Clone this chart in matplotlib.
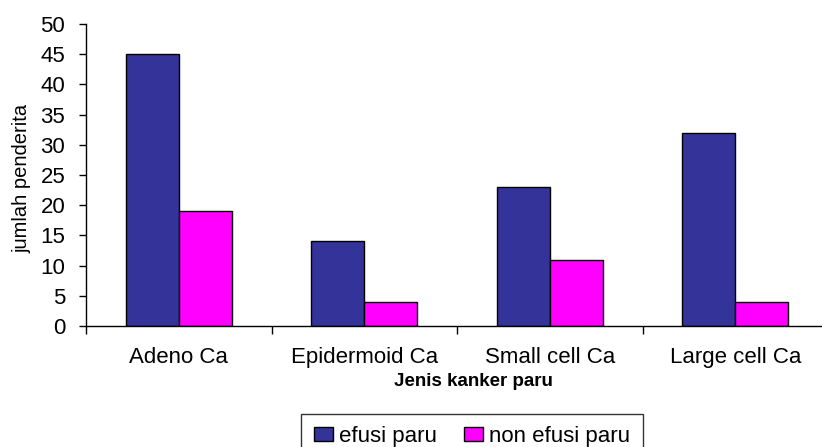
import matplotlib

matplotlib.use("Agg")
import matplotlib.pyplot as plt
import numpy as np

categories = ["Adeno Ca", "Epidermoid Ca", "Small cell Ca", "Large cell Ca"]
efusi = [45, 14, 23, 32]
non_efusi = [19, 4, 11, 4]
series_names = ["efusi paru", "non efusi paru"]
y_ticks = [0, 5, 10, 15, 20, 25, 30, 35, 40, 45, 50]

plt.rcParams["font.family"] = ["Liberation Sans", "DejaVu Sans"]

W, H = 822, 447
fig = plt.figure(figsize=(W / 100, H / 100), dpi=100)
ax = fig.add_axes([86 / W, 1 - 326 / H, (828 - 86) / W, (326 - 24) / H])

x = np.arange(len(categories))
w = 0.286
ax.bar(x - w / 2, efusi, w, color="#333399", edgecolor="black", linewidth=1.0,
       label=series_names[0])
ax.bar(x + w / 2, non_efusi, w, color="#FF00FF", edgecolor="black", linewidth=1.0,
       label=series_names[1])

ax.set_xlim(-0.5, len(categories) - 0.5)
ax.set_ylim(0, 50)
ax.set_yticks(y_ticks)
ax.tick_params(axis="y", labelsize=16, length=5, width=1, direction="out", pad=10)

# boundary ticks, labels centred on each group
ax.set_xticks(np.arange(len(categories) + 1) - 0.5)
ax.set_xticklabels([])
ax.set_xticks(x, minor=True)
ax.set_xticklabels(categories, minor=True, fontsize=16)
ax.tick_params(axis="x", which="major", length=6, width=1, direction="out")
ax.tick_params(axis="x", which="minor", length=0, pad=15)

for side in ("top", "right"):
    ax.spines[side].set_visible(False)
for side in ("left", "bottom"):
    ax.spines[side].set_linewidth(1.0)

fig.text(22 / W, 1 - 178 / H, "jumlah penderita", rotation=90, ha="center",
         va="center", fontsize=14.5)
fig.text(473 / W, 1 - 381 / H, "Jenis kanker paru", ha="center", va="center",
         fontsize=13.5, fontweight="bold")

leg = fig.legend(loc="upper center", bbox_to_anchor=(472 / W, 1 - 414 / H), ncol=2,
                 fontsize=16, frameon=True, fancybox=False, edgecolor="black",
                 handlelength=0.85, handleheight=0.6, handletextpad=0.3,
                 columnspacing=1.2, borderpad=0.55, borderaxespad=0)
leg.get_frame().set_linewidth(1.0)

fig.savefig("out.png", dpi=100)
